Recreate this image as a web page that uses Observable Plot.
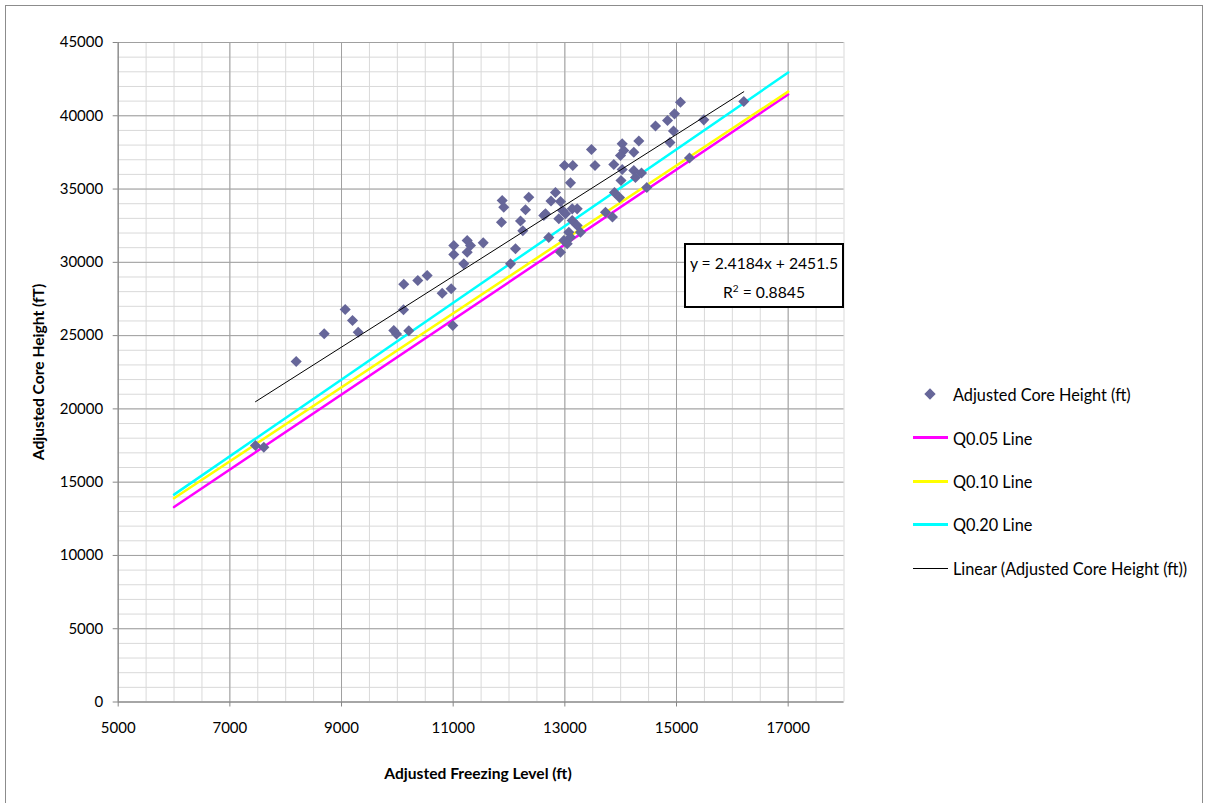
<!DOCTYPE html>
<html><head><meta charset="utf-8">
<script src="https://cdn.jsdelivr.net/npm/d3@7"></script>
<script src="https://cdn.jsdelivr.net/npm/@observablehq/plot@0.6"></script>
<style>
html,body{margin:0;padding:0;background:#fff;overflow:hidden;}
#wrap{position:relative;width:1210px;height:803px;font-family:Lato,"Open Sans",sans-serif;color:#000;}
#frame{position:absolute;left:5px;top:5px;width:1198px;height:820px;border:1px solid #8c8c8c;box-sizing:border-box;pointer-events:none;}
.abs{position:absolute;white-space:nowrap;}
.ytitle{left:38px;top:372px;transform:translate(-50%,-50%) rotate(-90deg);font-weight:bold;font-size:15.6px;}
.xtitle{left:478px;top:773px;transform:translate(-50%,-50%);font-weight:bold;font-size:15.6px;}
#eq{left:684px;top:243px;width:160px;height:65px;border:2px solid #000;box-sizing:border-box;background:#fff;font-size:15.7px;text-align:center;}
#eq div{position:absolute;left:0;right:0;}
.leg{font-size:16.3px;}
.legline{position:absolute;height:3px;}
</style></head><body><div id="wrap"><div id="frame"></div></div>
<script>
// Scatter data: Adjusted Freezing Level (ft) vs Adjusted Core Height (ft)
const freezingLevel = [7459,7608,8188,8690,9066,9197,9299,9936,9985,10205,10110,10115,10366,10534,10803,10964,10993,
  11011,11011,11251,11310,11251,11190,11538,11878,11906,11865,12206,12247,12116,12027,12354,12295,12623,12752,12832,
  12712,12653,12922,12958,13132,13221,13012,13132,13221,13280,13071,12981,12922,13101,13042,12994,13142,13101,13477,
  13540,13877,13728,13853,13889,13979,14027,14056,14325,14235,13997,14027,14235,14373,14265,14006,14468,15071,14964,
  14839,14624,14946,14883,15489,15233,16205,12892];
const coreHeight = [17501,17385,23232,25122,26780,26030,25231,25347,25109,25327,26760,28506,28759,29100,27892,28193,25689,
  31147,30533,31488,31147,30690,29898,31331,34217,33760,32737,32819,32150,30922,29898,34443,33583,33194,34183,34763,
  31693,33310,34149,33535,33651,33651,33310,32853,32512,32054,32054,31488,30690,31713,31263,36605,36605,35425,37697,
  36605,36674,33419,33092,34763,34422,38086,37629,38277,37513,37288,36332,36264,36094,35787,35582,35104,40924,40133,
  39676,39300,38959,38175,39723,37117,40972,32969];

// Quantile lines (endpoints)
const qX = [6000, 17000];
const q05 = [13300, 41450];
const q10 = [13900, 41650];
const q20 = [14150, 42950];

// Linear trendline
const trendSlope = 2.4184, trendIntercept = 2451.5, rSquared = 0.8845;

// Axes
const xTicks = [5000, 7000, 9000, 11000, 13000, 15000, 17000];
const yTicks = [0, 5000, 10000, 15000, 20000, 25000, 30000, 35000, 40000, 45000];
const xMinor = d3.range(5000, 18001, 500);
const yMinor = d3.range(0, 45001, 1000);

const seriesNames = ["Adjusted Core Height (ft)", "Q0.05 Line", "Q0.10 Line", "Q0.20 Line", "Linear (Adjusted Core Height (ft))"];
const seriesColors = ["#666699", "#ff00ff", "#ffff00", "#00ffff", "#000000"];

const points = freezingLevel.map((x, i) => ({x, y: coreHeight[i]}));
const [xmin, xmax] = d3.extent(freezingLevel);
const trend = [xmin, xmax].map(x => ({x, y: trendSlope * x + trendIntercept}));
const qLine = arr => qX.map((x, i) => ({x, y: arr[i]}));

const chart = Plot.plot({
  width: 1210, height: 803,
  marginLeft: 117.7, marginRight: 366.5, marginTop: 42, marginBottom: 101.5,
  x: {domain: [5000, 18000]},
  y: {domain: [0, 45000]},
  style: {fontFamily: "Lato, 'Open Sans', sans-serif", fontSize: "15px", color: "#000", background: "transparent"},
  marks: [
    Plot.ruleX(xMinor, {stroke: "#d9d9d9", strokeWidth: 1}),
    Plot.ruleY(yMinor, {stroke: "#d9d9d9", strokeWidth: 1}),
    Plot.ruleX(xTicks, {stroke: "#a0a0a0", strokeWidth: 1}),
    Plot.ruleY(yTicks, {stroke: "#a0a0a0", strokeWidth: 1}),
    Plot.ruleX([5000], {stroke: "#868686", strokeWidth: 1}),
    Plot.ruleY([0], {stroke: "#868686", strokeWidth: 1}),
    Plot.axisX(xTicks, {tickSize: 5, tickPadding: 15, stroke: "#868686", fill: "#000", tickFormat: d => `${d}`, label: null}),
    Plot.axisY(yTicks, {tickSize: 5, tickPadding: 10, stroke: "#868686", fill: "#000", tickFormat: d => `${d}`, label: null}),
    Plot.line(qLine(q05), {x: "x", y: "y", stroke: seriesColors[1], strokeWidth: 2.5}),
    Plot.line(qLine(q10), {x: "x", y: "y", stroke: seriesColors[2], strokeWidth: 2.5}),
    Plot.line(qLine(q20), {x: "x", y: "y", stroke: seriesColors[3], strokeWidth: 2.5}),
    Plot.dot(points, {x: "x", y: "y", symbol: "diamond2", r: 5, fill: seriesColors[0], stroke: "none"}),
    Plot.line(trend, {x: "x", y: "y", stroke: seriesColors[4], strokeWidth: 1})
  ]
});
chart.style.position = "absolute";
chart.style.left = "0px";
chart.style.top = "0px";
const wrap = document.getElementById("wrap");
wrap.appendChild(chart);

function addDiv(cls, text, css) {
  const d = document.createElement("div");
  d.className = "abs " + cls;
  if (text != null) d.textContent = text;
  Object.assign(d.style, css || {});
  wrap.appendChild(d);
  return d;
}
addDiv("ytitle", "Adjusted Core Height (fT)");
addDiv("xtitle", "Adjusted Freezing Level (ft)");

const eq = addDiv("", null);
eq.id = "eq";
eq.innerHTML = `<div style="top:9px">y = ${trendSlope}x + ${trendIntercept}</div><div style="top:37px">R<sup style="font-size:10px">2</sup> = ${rSquared}</div>`;

// Legend
const legY = [394, 437.7, 481, 524, 568];
seriesNames.forEach((name, i) => {
  if (i === 0) {
    addDiv("", null, {left: "926px", top: (legY[i] - 4) + "px", width: "8px", height: "8px", background: seriesColors[0], transform: "rotate(45deg)"});
  } else {
    addDiv("legline", null, {left: "913px", top: (legY[i] - 1.5) + "px", width: "35px",
      height: i === 4 ? "1px" : "3px", background: seriesColors[i], marginTop: i === 4 ? "1px" : "0"});
  }
  addDiv("leg", name, {left: "953px", top: legY[i] + "px", transform: "translateY(-50%)"});
});
</script>
</body></html>
